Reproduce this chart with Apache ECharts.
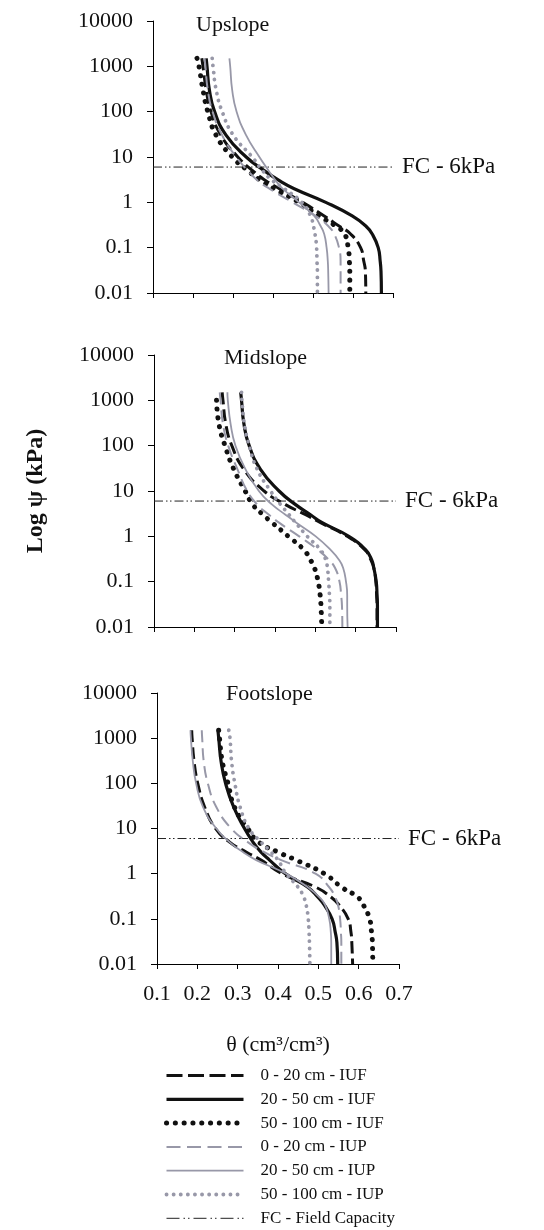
<!DOCTYPE html>
<html>
<head>
<meta charset="utf-8">
<script src="https://cdn.jsdelivr.net/npm/echarts@6/dist/echarts.min.js"></script>
<style>
  html, body { margin: 0; padding: 0; background: #fff; }
  #chart { width: 544px; height: 1230px; }
</style>
</head>
<body>
<div id="chart"></div>
<script>
// matric suction levels (kPa), from dry end down to saturation
const psiLevels = [1500, 1000, 300, 100, 30, 10, 5, 3, 2, 1, 0.5, 0.3, 0.2, 0.1, 0.05, 0.03, 0.01]
const yTickLabels = ['0.01', '0.1', '1', '10', '100', '1000', '10000']
const xTickLabels = ['0.1', '0.2', '0.3', '0.4', '0.5', '0.6', '0.7']
const panelTitles = ['Upslope', 'Midslope', 'Footslope']
const seriesNames = ['0 - 20 cm - IUF', '20 - 50 cm - IUF', '50 - 100 cm - IUF',
  '0 - 20 cm - IUP', '20 - 50 cm - IUP', '50 - 100 cm - IUP']
const fcName = 'FC - Field Capacity'
const fcLabel = 'FC - 6kPa'
const fcValue = 6

// theta (cm3/cm3) read at each psi level
const upIUF020 = [0.222, 0.225, 0.233, 0.245, 0.270, 0.312, 0.349, 0.382, 0.416, 0.474, 0.528, 0.565, 0.594, 0.619, 0.627, 0.631, 0.632]
const upIUF2050 = [0.233, 0.235, 0.241, 0.254, 0.283, 0.333, 0.378, 0.416, 0.453, 0.532, 0.598, 0.632, 0.648, 0.663, 0.668, 0.670, 0.671]
const upIUF50100 = [0.210, 0.215, 0.225, 0.237, 0.258, 0.298, 0.337, 0.370, 0.403, 0.465, 0.515, 0.557, 0.579, 0.588, 0.591, 0.592, 0.592]
const upIUP020 = [0.229, 0.231, 0.237, 0.249, 0.273, 0.308, 0.337, 0.362, 0.391, 0.449, 0.507, 0.538, 0.553, 0.565, 0.569, 0.569, 0.569]
const upIUP2050 = [0.291, 0.293, 0.298, 0.309, 0.333, 0.366, 0.389, 0.407, 0.424, 0.465, 0.503, 0.519, 0.528, 0.534, 0.537, 0.538, 0.539]
const upIUP50100 = [0.248, 0.250, 0.258, 0.273, 0.301, 0.348, 0.374, 0.399, 0.428, 0.472, 0.494, 0.501, 0.505, 0.509, 0.510, 0.511, 0.511]

const midIUF020 = [0.269, 0.271, 0.278, 0.293, 0.323, 0.373, 0.426, 0.476, 0.513, 0.579, 0.623, 0.638, 0.645, 0.650, 0.652, 0.653, 0.653]
const midIUF2050 = [0.315, 0.317, 0.323, 0.336, 0.364, 0.410, 0.451, 0.488, 0.517, 0.583, 0.625, 0.640, 0.645, 0.651, 0.653, 0.654, 0.654]
const midIUF50100 = [null, 0.255, 0.261, 0.276, 0.298, 0.326, 0.345, 0.370, 0.393, 0.433, 0.472, 0.488, 0.498, 0.507, 0.512, 0.514, 0.516]
const midIUP020 = [0.263, 0.265, 0.271, 0.284, 0.307, 0.331, 0.356, 0.385, 0.410, 0.460, 0.507, 0.534, 0.549, 0.560, 0.564, 0.566, 0.567]
const midIUP2050 = [0.282, 0.283, 0.290, 0.302, 0.327, 0.360, 0.393, 0.426, 0.453, 0.501, 0.538, 0.559, 0.569, 0.576, 0.579, 0.579, 0.580]
const midIUP50100 = [0.317, 0.318, 0.324, 0.336, 0.356, 0.389, 0.414, 0.435, 0.451, 0.480, 0.513, 0.526, 0.530, 0.533, 0.535, 0.536, 0.536]

const footIUF020 = [0.186, 0.187, 0.192, 0.201, 0.218, 0.245, 0.280, 0.321, 0.358, 0.410, 0.494, 0.532, 0.552, 0.574, 0.581, 0.583, 0.585]
const footIUF2050 = [0.251, 0.253, 0.259, 0.270, 0.290, 0.317, 0.338, 0.358, 0.379, 0.418, 0.474, 0.499, 0.515, 0.534, 0.542, 0.546, 0.548]
const footIUF50100 = [0.253, 0.255, 0.262, 0.276, 0.292, 0.325, 0.352, 0.400, 0.445, 0.515, 0.558, 0.598, 0.612, 0.627, 0.632, 0.634, 0.635]
const footIUP020 = [0.211, 0.212, 0.216, 0.226, 0.247, 0.284, 0.325, 0.366, 0.408, 0.493, 0.527, 0.542, 0.549, 0.554, 0.556, 0.557, 0.557]
const footIUP2050 = [0.183, 0.184, 0.189, 0.197, 0.214, 0.247, 0.280, 0.313, 0.346, 0.420, 0.474, 0.503, 0.517, 0.527, 0.531, 0.532, 0.532]
const footIUP50100 = [0.278, 0.281, 0.285, 0.293, 0.306, 0.328, 0.358, 0.383, 0.400, 0.420, 0.450, 0.464, 0.470, 0.475, 0.477, 0.478, 0.479]

const panelCurves = [
  [upIUF020, upIUF2050, upIUF50100, upIUP020, upIUP2050, upIUP50100],
  [midIUF020, midIUF2050, midIUF50100, midIUP020, midIUP2050, midIUP50100],
  [footIUF020, footIUF2050, footIUF50100, footIUP020, footIUP2050, footIUP50100]
]

const font = 'Liberation Serif'
const black = '#111'
const grey = '#9898a8'

const grids = [
  { left: 153, top: 21, width: 240, height: 272 },
  { left: 154, top: 355, width: 242, height: 272 },
  { left: 157, top: 693, width: 242, height: 271 }
]
const titleLeft = [196, 224, 226]
const titleShift = [-7, -8, -10]

const lineStyles = [
  { color: black, width: 3, type: [12, 5] },
  { color: black, width: 3.2, type: 'solid' },
  { color: black, width: 5, type: [0.1, 8.7], cap: 'round' },
  { color: grey, width: 2, type: [12, 6] },
  { color: grey, width: 1.8, type: 'solid' },
  { color: grey, width: 3.8, type: [0.1, 7], cap: 'round' }
]
const fcStyle = { color: '#222', width: 1, type: [9, 3, 1.5, 2.5, 1.5, 3] }

// legend samples are drawn a little longer-dashed than the curves
const legendDash = [[16, 5.5], null, null, [14, 6.5], null, null]

const series = []
panelCurves.forEach((curves, i) => {
  curves.forEach((thetas, k) => {
    series.push({
      name: seriesNames[k],
      type: 'line',
      xAxisIndex: i,
      yAxisIndex: i,
      data: thetas.map((t, j) => (t == null ? null : [t, psiLevels[j]])).filter(d => d),
      symbol: 'none',
      smooth: 0.5,
      lineStyle: lineStyles[k],
      z: 3 + k
    })
  })
  series.push({
    name: fcName,
    type: 'line',
    xAxisIndex: i,
    yAxisIndex: i,
    data: [[0.1, fcValue], [0.7, fcValue]],
    symbol: 'none',
    lineStyle: fcStyle,
    endLabel: { show: true, formatter: fcLabel, distance: 9, fontFamily: font, fontSize: 23, color: black },
    z: 2
  })
})

const legendData = seriesNames.map((n, k) => (legendDash[k] ? { name: n, lineStyle: { type: legendDash[k] } } : { name: n }))
legendData.push({ name: fcName, lineStyle: { type: [13, 4, 1.5, 3, 1.5, 4] } })

const option = {
  backgroundColor: '#fff',
  animation: false,
  title: panelTitles.map((t, i) => ({
    text: t,
    left: titleLeft[i],
    top: grids[i].top + titleShift[i],
    padding: 0,
    textStyle: { fontFamily: font, fontSize: 22, fontWeight: 'normal', color: black }
  })),
  grid: grids.map(g => Object.assign({ outerBoundsMode: 'none', containLabel: false }, g)),
  xAxis: grids.map((g, i) => ({
    type: 'value',
    gridIndex: i,
    min: 0.1,
    max: 0.7,
    interval: 0.1,
    axisLine: { show: true, onZero: false, lineStyle: { color: '#000', width: 1 } },
    axisTick: { show: true, length: 5, lineStyle: { color: '#000' } },
    axisLabel: {
      show: i === 2, margin: 19, fontFamily: font, fontSize: 22, color: black,
      formatter: v => xTickLabels[Math.round((v - 0.1) * 10)]
    },
    splitLine: { show: false },
    name: i === 2 ? 'θ (cm³/cm³)' : '',
    nameLocation: 'middle',
    nameGap: 70,
    nameTextStyle: { fontFamily: font, fontSize: 22, color: black }
  })),
  yAxis: grids.map((g, i) => ({
    type: 'log',
    logBase: 10,
    gridIndex: i,
    min: 0.01,
    max: 10000,
    axisLine: { show: true, onZero: false, lineStyle: { color: '#000', width: 1 } },
    axisTick: { show: true, length: 6, lineStyle: { color: '#000' } },
    axisLabel: {
      margin: 20, fontFamily: font, fontSize: 22, color: black,
      formatter: v => yTickLabels[Math.round(Math.log10(v)) + 2]
    },
    splitLine: { show: false },
    name: i === 1 ? 'Log ψ (kPa)' : '',
    nameLocation: 'middle',
    nameRotate: 90,
    nameGap: 106,
    nameTextStyle: { fontFamily: font, fontSize: 24, fontWeight: 'bold', color: black }
  })),
  legend: {
    orient: 'vertical',
    left: 164,
    top: 1067,
    padding: 0,
    itemWidth: 77,
    itemHeight: 12,
    itemGap: 6.8,
    selectedMode: false,
    data: legendData,
    textStyle: { fontFamily: font, fontSize: 17, color: black, padding: [0, 0, 0, 12] },
    lineStyle: { width: 'inherit' },
    itemStyle: { opacity: 0 }
  },
  series: series
}

const chart = echarts.init(document.getElementById('chart'))
chart.setOption(option)
</script>
</body>
</html>
